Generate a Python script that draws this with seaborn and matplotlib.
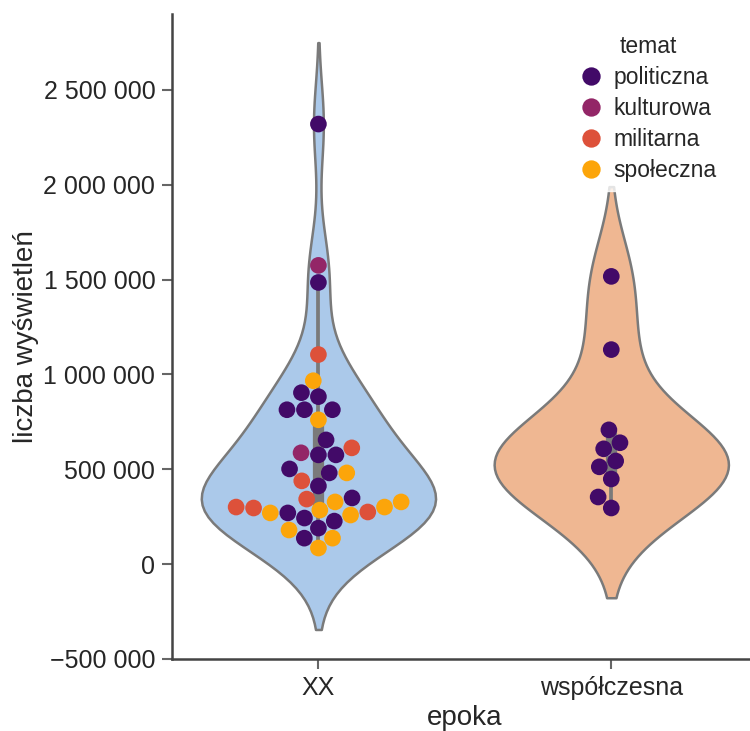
import matplotlib
matplotlib.use("Agg")
import matplotlib.pyplot as plt
from matplotlib.ticker import FuncFormatter
import numpy as np
import pandas as pd
import seaborn as sns

# wartości
xx_polityczna = [2320000, 1485000, 904000, 883000, 814000, 814000, 814000, 655000,
                 576000, 576000, 502000, 481000, 412000, 349000, 270000, 243000,
                 227000, 190000, 137000]
xx_kulturowa = [1575000, 587000]
xx_militarna = [1105000, 613000, 439000, 343000, 301000, 296000, 275000]
xx_spoleczna = [967000, 761000, 481000, 328000, 328000, 301000, 285000, 270000,
                259000, 180000, 137000, 85000]
wsp_polityczna = [1517000, 1131000, 708000, 640000, 608000, 544000, 513000,
                  449000, 354000, 296000]

epoki = ["XX", "współczesna"]
tematy = ["politiczna", "kulturowa", "militarna", "społeczna"]

rows = []
for temat, vals in zip(tematy, [xx_polityczna, xx_kulturowa, xx_militarna, xx_spoleczna]):
    for v in vals:
        rows.append(("XX", temat, v))
for v in wsp_polityczna:
    rows.append(("współczesna", "politiczna", v))
df = pd.DataFrame(rows, columns=["epoka", "temat", "liczba wyświetleń"])

sns.set_style("ticks")
plt.rcParams['font.family'] = ['Liberation Sans', 'DejaVu Sans']

fig = plt.figure(figsize=(7.5, 7.31), dpi=100)
ax = fig.add_axes([0.2293, 0.0985, 0.781, 0.8823])

sns.violinplot(data=df, x="epoka", y="liczba wyświetleń", hue="epoka",
               order=epoki, palette="pastel", legend=False, ax=ax,
               linewidth=1.8, linecolor="#7a7a7a")
sns.swarmplot(data=df, x="epoka", y="liczba wyświetleń", hue="temat",
              order=epoki, hue_order=tematy, palette="inferno", size=12, ax=ax)

ax.set_xlim(-0.5, 1.5)
ax.set_ylim(-500000, 2900000)
ax.yaxis.set_major_formatter(FuncFormatter(
    lambda v, p: ("\u2212" if v < 0 else "") + f"{abs(v):,.0f}".replace(",", " ")))
ax.tick_params(labelsize=18, length=7, width=1.5, color="#666666", pad=5)
for s in ax.spines.values():
    s.set_linewidth(1.8)
    s.set_color("#444444")
ax.set_xlabel("epoka", fontsize=20, labelpad=4)
ax.set_ylabel("liczba wyświetleń", fontsize=20, labelpad=3)
sns.despine(ax=ax)

leg = ax.legend(title="temat", loc="upper left", fontsize=16.5, title_fontsize=16.5,
                frameon=True, edgecolor="white", handlelength=1.0, handletextpad=0.5,
                labelspacing=0.35, markerscale=1.1,
                borderaxespad=0, bbox_to_anchor=(570 / 750, 1 - 26 / 731),
                bbox_transform=fig.transFigure)

fig.savefig("out.png", dpi=100)
